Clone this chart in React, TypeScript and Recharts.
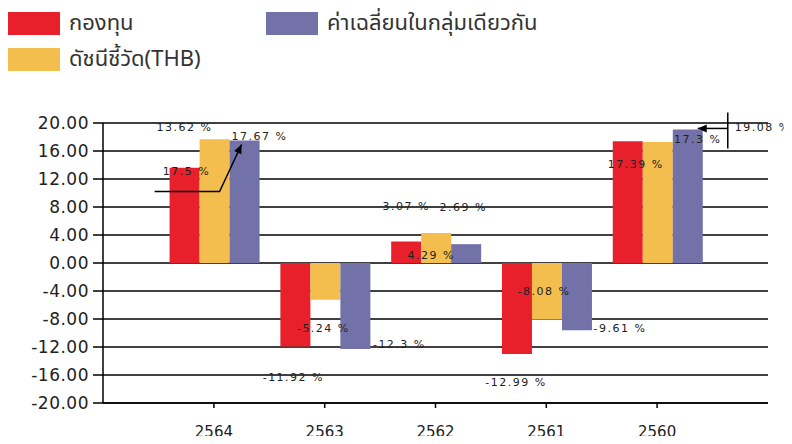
import React from 'react';
import { BarChart, Bar, XAxis, YAxis, CartesianGrid, LabelList } from 'recharts';

const years = ['2564', '2563', '2562', '2561', '2560'];
const fundValues = [13.62, -11.92, 3.07, -12.99, 17.39];
const indexValues = [17.67, -5.24, 4.29, -8.08, 17.3];
const peerValues = [17.5, -12.3, 2.69, -9.61, 19.08];
const yTicks = [20, 16, 12, 8, 4, 0, -4, -8, -12, -16, -20];
const seriesNames = ['กองทุน', 'ดัชนีชี้วัด(THB)', 'ค่าเฉลี่ยนในกลุ่มเดียวกัน'];

const colors = ['#E8202B', '#F3BE4E', '#7272A9'];

const data = years.map((y, i) => ({
  year: y,
  fund: fundValues[i],
  index: indexValues[i],
  peer: peerValues[i],
}));

// label placement offsets (style), relative to the bar's end point
const labelOffsets: number[][][] = [
  [[0, -40], [-2, 31], [0, -35], [-1, 29], [8, 23.5]],
  [[45, -2.5], [-2, 29], [-5, 23], [-3, -28], [40, -2]],
  [[-58, 31], [44, -5], [-3, -37], [43, -2], [75, -1.5]],
];

type Leader = { pts: number[][]; arrow: boolean };
const leaderLines: Record<string, Leader[]> = {
  '2-0': [{ pts: [[-90, 51], [-25, 51], [-3, 4]], arrow: true }],
  '2-4': [
    { pts: [[40, -17], [40, 19]], arrow: false },
    { pts: [[40, -1], [10, -1]], arrow: true },
  ],
};

const FONT = '"DejaVu Sans", "Liberation Sans", sans-serif';

const arrowHead = (p: number[], q: number[]) => {
  const dx = q[0] - p[0];
  const dy = q[1] - p[1];
  const len = Math.hypot(dx, dy) || 1;
  const ux = dx / len, uy = dy / len;
  const nx = -uy, ny = ux;
  const L = 9, W = 4;
  return `${q[0]},${q[1]} ${q[0] - L * ux + W * nx},${q[1] - L * uy + W * ny} ${q[0] - L * ux - W * nx},${q[1] - L * uy - W * ny}`;
};

const makeLabel = (s: number) => (props: any) => {
  const { x, y, width, height, value, index } = props;
  const xs = Number(x), ys = Number(y), w = Number(width), h = Number(height);
  const cx = xs + w / 2;
  const top = Math.min(ys, ys + h);
  const bot = Math.max(ys, ys + h);
  const ey = Number(value) >= 0 ? top : bot;
  const off = labelOffsets[s][index] || [0, 0];
  const leaders = leaderLines[`${s}-${index}`] || [];
  return (
    <g>
      {leaders.map((ld, k) => {
        const abs = ld.pts.map((p) => [cx + p[0], ey + p[1]]);
        const n = abs.length;
        return (
          <g key={k}>
            <polyline
              points={abs.map((p) => p.join(',')).join(' ')}
              fill="none"
              stroke="#000"
              strokeWidth={1.5}
            />
            {ld.arrow ? <polygon points={arrowHead(abs[n - 2], abs[n - 1])} fill="#000" /> : null}
          </g>
        );
      })}
      <text
        x={cx + off[0]}
        y={ey + off[1]}
        textAnchor="middle"
        dominantBaseline="central"
        fontFamily={FONT}
        fontSize={11}
        letterSpacing={1.5}
        fill="#222"
      >
        {`${value} %`}
      </text>
    </g>
  );
};

const legendItems = [
  { name: seriesNames[0], color: colors[0], left: 8, top: 12 },
  { name: seriesNames[2], color: colors[2], left: 266, top: 12 },
  { name: seriesNames[1], color: colors[1], left: 8, top: 48 },
];

export default function App() {
  return (
    <div style={{ position: 'relative', width: 792, height: 444, margin: -8, background: '#fff', overflow: 'hidden' }}>
      {legendItems.map((it) => (
        <div
          key={it.name}
          style={{ position: 'absolute', left: it.left, top: it.top, display: 'flex', alignItems: 'center', height: 23 }}
        >
          <div style={{ width: 52, height: 23, background: it.color }} />
          <span
            style={{
              marginLeft: 9,
              fontFamily: '"Noto Sans Thai", "Noto Sans", "DejaVu Sans", sans-serif',
              fontSize: 22,
              color: '#333',
              whiteSpace: 'nowrap',
              lineHeight: '23px',
            }}
          >
            {it.name}
          </span>
        </div>
      ))}
      <div style={{ position: 'absolute', left: 0, top: 0 }}>
        <BarChart
          width={792}
          height={444}
          data={data}
          margin={{ top: 123, right: 24, left: 43, bottom: 6 }}
          barCategoryGap="10%"
          barGap={0}
        >
          <CartesianGrid horizontal vertical={false} stroke="#000" strokeWidth={1.5} />
          <XAxis
            dataKey="year"
            padding={{ left: 55.5, right: 55.5 }}
            axisLine={{ stroke: '#000', strokeWidth: 1.5 }}
            tickLine={{ stroke: '#000', strokeWidth: 1.5 }}
            tickSize={5}
            tickMargin={18}
            height={35}
            tick={{ fill: '#222', fontSize: 15, fontFamily: FONT }}
          />
          <YAxis
            domain={[-20, 20]}
            ticks={yTicks}
            interval={0}
            width={60}
            axisLine={{ stroke: '#000', strokeWidth: 1.5 }}
            tickLine={{ stroke: '#000', strokeWidth: 1.5 }}
            tickSize={10}
            tickMargin={4}
            tickFormatter={(v: number) => v.toFixed(2)}
            tick={{ fill: '#222', fontSize: 17, fontFamily: FONT, letterSpacing: 0.5 }}
          />
          <YAxis
            yAxisId="r"
            orientation="right"
            domain={[-20, 20]}
            width={0}
            tick={false}
            tickLine={false}
            axisLine={{ stroke: '#000', strokeWidth: 1.5 }}
          />
          <Bar dataKey="fund" name={seriesNames[0]} fill={colors[0]} isAnimationActive={false}>
            <LabelList dataKey="fund" content={makeLabel(0)} />
          </Bar>
          <Bar dataKey="index" name={seriesNames[1]} fill={colors[1]} isAnimationActive={false}>
            <LabelList dataKey="index" content={makeLabel(1)} />
          </Bar>
          <Bar dataKey="peer" name={seriesNames[2]} fill={colors[2]} isAnimationActive={false}>
            <LabelList dataKey="peer" content={makeLabel(2)} />
          </Bar>
        </BarChart>
      </div>
    </div>
  );
}
